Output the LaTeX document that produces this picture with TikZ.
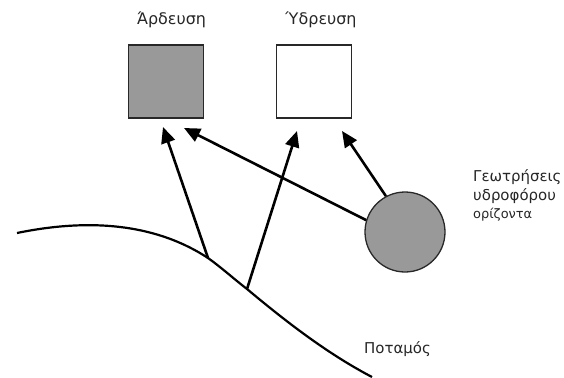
\documentclass[tikz,border=0pt]{standalone}
\usepackage{fontspec}
\setmainfont{DejaVu Sans}
\usetikzlibrary{arrows.meta}
\definecolor{fillgray}{RGB}{153,153,153}
\definecolor{edgegray}{RGB}{40,40,40}
\begin{document}
\begin{tikzpicture}[x=1bp,y=-1bp,
  box/.style={draw=edgegray,line width=1.5bp,minimum width=75bp,minimum height=73bp,inner sep=0pt},
  well/.style={circle,draw=edgegray,line width=1.3bp,fill=fillgray,minimum size=80bp,inner sep=0pt},
  label/.style={font=\fontsize{15}{20}\selectfont,text=black!85,inner sep=0pt},
  title/.style={font=\fontsize{16}{20}\selectfont,text=black!85,inner sep=0pt},
  small/.style={font=\fontsize{13}{18}\selectfont,text=black!85,inner sep=0pt},
  flow/.style={line width=2.6bp,-{Triangle[length=16bp,width=14bp]}},
  river/.style={line width=2.2bp}]
\useasboundingbox (0,0) rectangle (564,377);
\node[box,fill=fillgray] (ard) at (166,81.5) {};
\node[box,fill=white] (ydr) at (314,81.5) {};
\node[title,anchor=base] (tard) at (171.5,24) {Άρδευση};
\node[title,anchor=base] (tydr) at (321,24) {Ύδρευση};
\node[well] (w) at (405,232) {};
\node[label,anchor=base west] (tw1) at (473,181) {Γεωτρήσεις};
\node[label,anchor=base west] (tw2) at (473,200) {υδροφόρου};
\node[small,anchor=base west] (tw3) at (473,218) {ορίζοντα};
\node[label,anchor=base west] (tp) at (364,353) {Ποταμός};
\coordinate (r0) at (17,233);
\coordinate (r1) at (208,258);
\coordinate (r2) at (247,289);
\coordinate (r3) at (372,377);
\draw[river] (r0) .. controls (80,220) and (150,220) .. (r1)
  .. controls (222,268) and (234,279) .. (r2)
  .. controls (290,325) and (330,355) .. (r3);
\coordinate (a1t) at (163,127);
\coordinate (a2t) at (184,128);
\coordinate (a3t) at (297,131);
\coordinate (a4t) at (342,131);
\draw[flow] (r1) -- (a1t);
\draw[flow] (w.{163}) -- (a2t);
\draw[flow] (r2) -- (a3t);
\draw[flow] (w.{118}) -- (a4t);
\end{tikzpicture}
\end{document}
